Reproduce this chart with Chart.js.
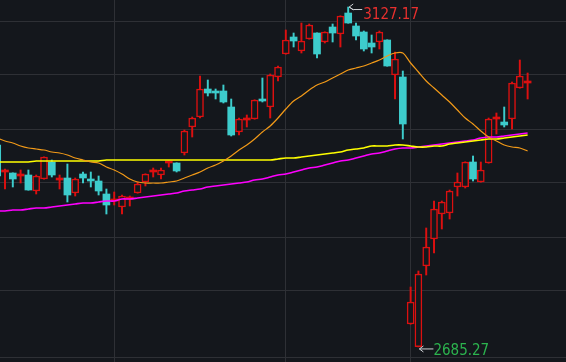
<!DOCTYPE html>
<html>
<head>
<meta charset="utf-8">
<script src="https://cdn.jsdelivr.net/npm/chart.js@4"></script>
<style>
  html, body { margin: 0; padding: 0; background: #14171c; }
  #wrap { width: 566px; height: 362px; }
</style>
</head>
<body>
<div id="wrap"><canvas id="kline" width="566" height="362"></canvas></div>
<script>
// daily candles, oldest first
const open = [2947.8, 2912.7, 2911.4, 2907.5, 2908.8, 2888.0, 2903.6, 2925.7, 2902.3, 2904.9,
  2885.4, 2910.1, 2903.6, 2901.0, 2884.1, 2875.0, 2867.2, 2877.6, 2885.4, 2899.7,
  2912.7, 2908.8, 2924.4, 2924.4, 2937.4, 2971.2, 2984.2, 3020.6, 3016.0, 3018.0,
  2997.2, 2964.7, 2980.3, 2981.6, 3005.6, 2997.2, 3036.2, 3066.1, 3088.2, 3070.0,
  3085.6, 3093.4, 3081.7, 3101.2, 3092.1, 3119.4, 3102.5, 3094.7, 3080.4, 3081.7,
  3084.3, 3038.8, 3036.2, 2715.1, 2685.6, 2790.5, 2825.6, 2858.1, 2859.4, 2893.2,
  2893.2, 2925.7, 2899.7, 2924.4, 2981.6, 2977.7, 2981.6, 3021.9, 3028.4];
const close = [2907.5, 2913.0, 2903.6, 2907.8, 2889.3, 2907.5, 2932.2, 2908.8, 2902.6, 2882.8,
  2903.6, 2904.9, 2901.0, 2888.0, 2869.8, 2875.3, 2881.5, 2877.9, 2897.1, 2910.1,
  2913.0, 2915.3, 2924.7, 2914.0, 2966.0, 2982.9, 3020.6, 3015.4, 3015.4, 3003.7,
  2960.8, 2981.6, 2980.6, 3006.3, 3005.0, 3038.8, 3049.2, 3084.3, 3083.0, 3083.0,
  3103.8, 3066.1, 3094.7, 3093.4, 3115.5, 3106.4, 3089.5, 3072.6, 3075.2, 3094.7,
  3050.5, 3059.6, 2975.1, 2743.7, 2780.1, 2815.2, 2864.6, 2873.7, 2888.0, 2899.7,
  2925.7, 2903.6, 2915.3, 2981.6, 2981.9, 2973.8, 3028.4, 3037.5, 3028.7];
const high = [2950.4, 2916.6, 2911.6, 2915.3, 2915.3, 2908.8, 2932.5, 2928.3, 2908.8, 2923.1,
  2904.9, 2912.7, 2912.7, 2907.5, 2890.6, 2886.7, 2882.8, 2881.5, 2899.7, 2910.4,
  2917.9, 2917.9, 2927.0, 2924.7, 2967.3, 2984.2, 3037.5, 3032.3, 3020.6, 3025.8,
  3007.6, 2982.9, 2986.8, 3006.6, 3034.9, 3040.1, 3050.5, 3097.3, 3093.4, 3106.4,
  3105.1, 3093.7, 3095.0, 3105.1, 3115.8, 3127.17, 3106.4, 3096.0, 3090.8, 3096.0,
  3084.6, 3068.7, 3044.0, 2763.2, 2784.0, 2839.9, 2875.0, 2875.0, 2889.3, 2911.4,
  2926.0, 2933.5, 2925.7, 2982.9, 2989.4, 2997.2, 3029.7, 3058.3, 3041.4];
const low = [2904.9, 2890.6, 2893.2, 2898.4, 2889.0, 2884.1, 2903.3, 2906.2, 2890.6, 2873.7,
  2881.5, 2898.4, 2893.2, 2882.8, 2858.1, 2869.8, 2858.1, 2868.5, 2885.1, 2894.5,
  2906.2, 2903.6, 2919.2, 2912.7, 2934.8, 2958.2, 2982.9, 3011.5, 3007.6, 3002.4,
  2959.5, 2960.8, 2971.2, 2981.3, 3003.7, 2982.9, 3031.0, 3065.8, 3075.2, 3067.4,
  3085.3, 3060.9, 3080.4, 3081.7, 3075.2, 3106.1, 3084.3, 3070.0, 3067.4, 3072.6,
  3050.2, 3007.6, 2955.6, 2714.8, 2685.27, 2778.8, 2807.4, 2838.6, 2851.6, 2881.5,
  2891.9, 2901.0, 2899.4, 2924.1, 2962.1, 2971.2, 2968.6, 3021.6, 3007.6];

// moving averages
const maOrange = [2956.9, 2953.0, 2950.4, 2946.5, 2943.9, 2942.6, 2941.3, 2938.7, 2937.4, 2934.8,
  2930.9, 2928.3, 2925.7, 2924.4, 2919.2, 2915.3, 2910.1, 2903.6, 2899.7, 2898.4,
  2898.4, 2898.4, 2899.7, 2901.0, 2904.9, 2908.8, 2912.7, 2917.9, 2921.8, 2927.0,
  2933.5, 2941.3, 2947.8, 2955.6, 2964.7, 2972.5, 2982.9, 2994.6, 3005.0, 3011.5,
  3019.3, 3025.8, 3029.7, 3034.9, 3040.1, 3045.3, 3047.9, 3050.5, 3054.4, 3058.3,
  3063.5, 3067.4, 3067.4, 3054.4, 3042.7, 3031.0, 3021.9, 3012.8, 3003.7, 2993.3,
  2982.9, 2975.1, 2966.0, 2958.2, 2953.0, 2947.8, 2945.2, 2943.9, 2940.0];
const maYellow = [2925.7, 2925.7, 2925.7, 2925.7, 2925.7, 2927.0, 2927.0, 2927.0, 2927.0, 2927.0,
  2927.0, 2927.0, 2927.0, 2927.0, 2928.3, 2928.3, 2928.3, 2928.3, 2928.3, 2928.3,
  2928.3, 2928.3, 2928.3, 2928.3, 2928.3, 2928.3, 2928.3, 2928.3, 2928.3, 2928.3,
  2928.3, 2928.3, 2928.3, 2928.3, 2928.3, 2928.3, 2929.6, 2930.9, 2930.9, 2932.2,
  2933.5, 2934.8, 2936.1, 2937.4, 2938.7, 2941.3, 2942.6, 2943.9, 2946.5, 2946.5,
  2946.5, 2947.8, 2947.8, 2946.5, 2945.2, 2945.2, 2946.5, 2946.5, 2949.1, 2950.4,
  2951.7, 2953.0, 2954.3, 2955.6, 2955.6, 2956.9, 2958.2, 2959.5, 2960.8];
const maMagenta = [2862.0, 2862.0, 2863.3, 2863.3, 2864.6, 2865.9, 2865.9, 2867.2, 2868.5, 2869.8,
  2871.1, 2872.4, 2872.4, 2873.7, 2875.0, 2875.0, 2877.6, 2877.6, 2878.9, 2880.2,
  2881.5, 2882.8, 2884.1, 2885.4, 2888.0, 2889.3, 2890.6, 2893.2, 2894.5, 2895.8,
  2897.1, 2898.4, 2899.7, 2902.3, 2903.6, 2906.2, 2908.8, 2910.1, 2912.7, 2915.3,
  2917.9, 2919.2, 2921.8, 2924.4, 2927.0, 2928.3, 2930.9, 2933.5, 2936.1, 2937.4,
  2940.0, 2942.6, 2943.9, 2943.9, 2945.2, 2946.5, 2947.8, 2949.1, 2950.4, 2951.7,
  2953.0, 2954.3, 2956.9, 2958.2, 2958.2, 2959.5, 2960.8, 2962.1, 2963.4];

// candle index where a new month starts (vertical grid lines)
const monthStarts = [15, 37, 53];
// horizontal grid levels
const gridLevels = [3109.0, 3038.8, 2968.6, 2898.4, 2828.2, 2758.0, 2670.9];

const BG = '#14171c';
const RED = '#dc1010';
const CYAN = '#3dcccc';
const GRID = '#2e3035';

const isUp = i => close[i] >= open[i];
const isDoji = i => Math.abs(close[i] - open[i]) < 1;

const bodies = open.map((o, i) => ({ x: i, y: [o, close[i]] }));
const wicks = low.map((l, i) => ({ x: i, y: [l, high[i]] }));
const line = arr => arr.map((v, i) => ({ x: i, y: v }));

const bgPlugin = {
  id: 'bg',
  beforeDraw(chart) {
    const { ctx } = chart;
    ctx.save();
    ctx.fillStyle = BG;
    ctx.fillRect(0, 0, chart.width, chart.height);
    ctx.restore();
  }
};

function arrowLeft(ctx, tipX, tipY, pts) {
  ctx.beginPath();
  ctx.moveTo(tipX, tipY);
  pts.forEach(p => ctx.lineTo(p[0], p[1]));
  ctx.stroke();
  ctx.beginPath();
  ctx.moveTo(tipX + 4, tipY - 3);
  ctx.lineTo(tipX, tipY);
  ctx.lineTo(tipX + 4, tipY + 3);
  ctx.stroke();
}

const extremes = {
  id: 'extremes',
  afterDatasetsDraw(chart) {
    const { ctx } = chart;
    const x = chart.scales.x, y = chart.scales.y;
    const hi = Math.max(...high), lo = Math.min(...low);
    const hx = x.getPixelForValue(high.indexOf(hi));
    const hy = y.getPixelForValue(hi);
    const lx = x.getPixelForValue(low.indexOf(lo));
    const ly = y.getPixelForValue(lo);
    ctx.save();
    ctx.strokeStyle = '#cfd2d6';
    ctx.lineWidth = 1;
    ctx.font = "15px 'Liberation Sans Narrow', 'DejaVu Sans Condensed', sans-serif";
    ctx.textBaseline = 'alphabetic';

    arrowLeft(ctx, hx + 1, hy, [[hx + 5, hy + 2.5], [hx + 14, hy + 2.5]]);
    ctx.fillStyle = '#e8302e';
    ctx.fillText(hi.toFixed(2), hx + 15, hy + 11.5);

    arrowLeft(ctx, lx + 1, ly + 2, [[lx + 15, ly + 2]]);
    ctx.fillStyle = '#2cb34e';
    ctx.fillText(lo.toFixed(2), lx + 15, ly + 8.5);
    ctx.restore();
  }
};

new Chart(document.getElementById('kline'), {
  type: 'bar',
  data: {
    datasets: [
      {
        label: 'wick',
        data: wicks,
        order: 3,
        grouped: false,
        barThickness: 1.3,
        backgroundColor: ctx => isUp(ctx.dataIndex) ? RED : CYAN,
        borderWidth: 0
      },
      {
        label: 'body',
        data: bodies,
        order: 2,
        grouped: false,
        barThickness: 7,
        minBarLength: 2,
        borderSkipped: false,
        backgroundColor: ctx => {
          const i = ctx.dataIndex;
          if (!isUp(i)) return CYAN;
          return isDoji(i) ? RED : BG;
        },
        borderColor: ctx => isUp(ctx.dataIndex) ? RED : CYAN,
        borderWidth: ctx => (isUp(ctx.dataIndex) && !isDoji(ctx.dataIndex)) ? 1.5 : 0
      },
      {
        type: 'line',
        label: 'MA orange',
        data: line(maOrange),
        order: 1,
        borderColor: '#f29a18',
        borderWidth: 1.2,
        pointRadius: 0,
        tension: 0.3
      },
      {
        type: 'line',
        label: 'MA yellow',
        data: line(maYellow),
        order: 1,
        borderColor: '#ffff00',
        borderWidth: 1.6,
        pointRadius: 0,
        tension: 0.3
      },
      {
        type: 'line',
        label: 'MA magenta',
        data: line(maMagenta),
        order: 1,
        borderColor: '#ff00ff',
        borderWidth: 1.6,
        pointRadius: 0,
        tension: 0.3
      }
    ]
  },
  options: {
    responsive: false,
    animation: false,
    devicePixelRatio: 1,
    layout: { padding: 0 },
    plugins: {
      legend: { display: false },
      tooltip: { enabled: false }
    },
    scales: {
      x: {
        type: 'linear',
        min: 0.359,
        max: 72.92,
        offset: false,
        grid: { color: GRID, lineWidth: 1, offset: false, drawTicks: false },
        border: { display: false },
        ticks: { display: false },
        afterBuildTicks: axis => { axis.ticks = monthStarts.map(v => ({ value: v })); },
        afterFit: axis => { axis.height = 0; }
      },
      y: {
        min: 2665.7,
        max: 3136.3,
        grid: { color: GRID, lineWidth: 1, drawTicks: false },
        border: { display: false },
        ticks: { display: false },
        afterBuildTicks: axis => { axis.ticks = gridLevels.map(v => ({ value: v })); },
        afterFit: axis => { axis.width = 0; }
      }
    }
  },
  plugins: [bgPlugin, extremes]
});
</script>
</body>
</html>
